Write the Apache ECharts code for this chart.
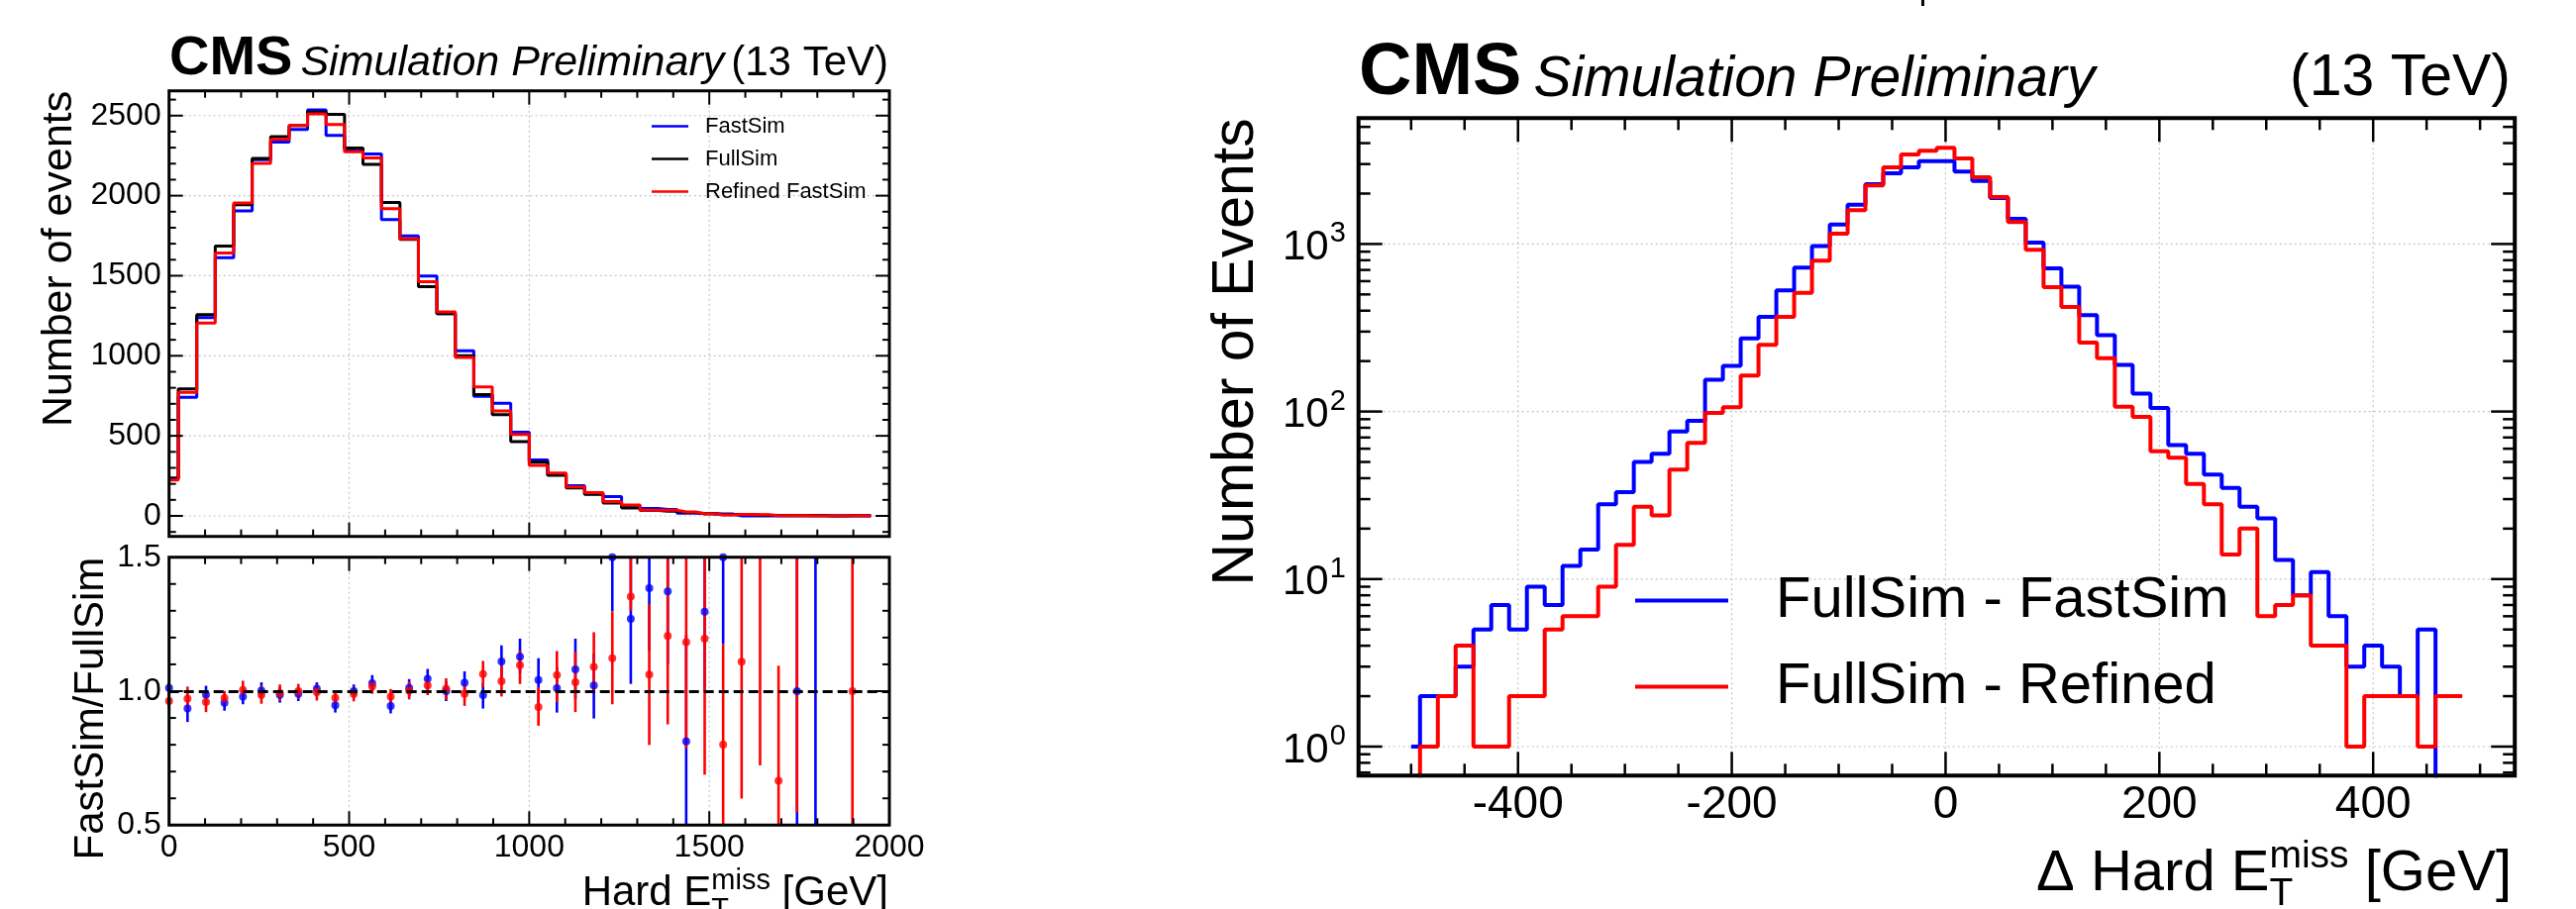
<!DOCTYPE html>
<html><head><meta charset="utf-8">
<script src="https://cdn.jsdelivr.net/npm/echarts@6/dist/echarts.min.js"></script>
<style>html,body{margin:0;padding:0;background:#fff}#c{width:2601px;height:918px}</style>
</head><body><div id="c"></div>
<script>
// ---------------- Left panel: Hard E_T^miss (39 bins over 0..2000) ----------------
const metRange = [0, 2000];
const metBins = 39;
const fastSim = [236,741,1239,1613,1905,2225,2335,2414,2535,2376,2290,2261,1850,1748,1498,1263,1031,747,703,523,349,256,189,137,120,64,47,40,17,16,12,0,0,0,1,2,0,0,0];
const fullSim = [233,793,1257,1686,1944,2232,2368,2438,2521,2508,2298,2195,1958,1727,1432,1263,1000,758,633,464,335,253,175,134,80,50,34,29,21,12,8,9,4,3,1,1,0,1,1];
const refinedFastSim = [224,771,1205,1642,1954,2201,2351,2438,2511,2445,2275,2235,1919,1730,1462,1274,990,806,656,509,315,268,181,146,90,68,36,35,25,14,6,10,7,2,2,0,0,1,0];
// ratio panel: value, lower and upper end of the error bar
const ratioFast   = [1.012,0.935,0.986,0.957,0.980,1.002,0.986,0.990,1.009,0.947,1.000,1.030,0.945,1.012,1.046,1.000,1.031,0.985,1.111,1.128,1.042,1.011,1.081,1.021,1.500,1.270,1.384,1.372,0.812,1.297,1.500,null,null,null,1.000,2.000,null,null,null];
const ratioFastLo = [0.990,0.885,0.952,0.927,0.951,0.972,0.957,0.963,0.981,0.920,0.975,1.000,0.917,0.980,1.009,0.963,0.990,0.935,1.052,1.067,0.956,0.920,0.970,0.898,1.298,1.027,1.150,1.100,0.410,1.000,1.175,null,null,null,0.000,0.000,null,null,null];
const ratioFastHi = [1.034,0.984,1.020,0.987,1.009,1.033,1.015,1.015,1.033,0.972,1.025,1.060,0.972,1.045,1.083,1.037,1.074,1.030,1.171,1.196,1.123,1.090,1.196,1.140,1.750,1.520,1.620,1.650,1.210,1.600,1.850,null,null,null,2.000,4.000,null,null,null];
const ratioRef    = [0.963,0.972,0.959,0.974,1.005,0.986,0.993,1.000,0.996,0.975,0.990,1.018,0.980,1.002,1.021,1.009,0.990,1.064,1.037,1.097,0.941,1.060,1.033,1.091,1.123,1.353,1.062,1.206,1.183,1.196,0.800,1.110,1.800,0.666,2.000,null,null,1.000,null];
const ratioRefLo  = [0.935,0.930,0.922,0.947,0.971,0.953,0.965,0.972,0.965,0.950,0.962,0.990,0.952,0.969,0.985,0.968,0.945,1.015,0.980,1.027,0.871,0.959,0.922,1.002,0.951,1.300,0.799,0.876,0.787,0.688,0.425,0.599,0.723,0.236,0.547,null,null,0.000,null];
const ratioRefHi  = [0.991,1.017,0.996,1.001,1.039,1.020,1.025,1.027,1.025,1.000,1.017,1.043,1.008,1.036,1.052,1.048,1.033,1.113,1.095,1.150,1.015,1.150,1.147,1.220,1.298,1.700,1.325,1.536,1.580,1.700,1.175,1.620,2.900,1.095,3.400,null,null,2.000,null];

// ---------------- Right panel: Delta Hard E_T^miss (bins of 50/3 GeV from -500) ----------------
const diffFirstCenter = -500;
const diffBinWidth = 50 / 3;
const diffFullMinusFast = [1,2,2,3,5,7,5,9,7,12,15,28,33,50,56,76,88,155,187,273,367,528,724,973,1306,1714,2278,2642,2868,3123,3123,2704,2382,1880,1413,1019,716,557,376,286,190,128,105,63,56,42,35,27,23,13,8,11,6,3,4,3,2,5,0,0];
const diffFullMinusRefined = [0,1,2,4,1,1,2,2,5,6,6,9,16,27,24,45,65,98,106,164,250,367,511,794,1151,1591,2235,2868,3422,3597,3748,3243,2500,1906,1351,923,552,421,258,208,107,93,58,53,37,28,14,20,6,7,8,4,4,1,2,2,2,1,2,2];

// tick labels
const leftYTickLabels = [0,500,1000,1500,2000,2500];
const ratioXTickLabels = [0,500,1000,1500,2000];
const rightXTickLabels = [-400,-200,0,200,400];
const rightYTickLabels = [1,10,100,1000];

const FONT = 'Liberation Sans';
const BLUE = '#0000ff', RED = '#ff0000', BLACK = '#000000';

const metWidth = (metRange[1] - metRange[0]) / metBins;
const metCenters = fullSim.map((_, i) => metRange[0] + i * metWidth);
const diffCenters = diffFullMinusFast.map((_, i) => diffFirstCenter + i * diffBinWidth);
const pairs = (xs, ys) => xs.map((x, i) => [x, ys[i]]);
const logSafe = v => (v > 0 ? v : 0.01); // empty bins fall below the log axis and get clipped

const mctx = document.createElement('canvas').getContext('2d');
function tw(t, fs, weight, style) { mctx.font = `${style||'normal'} ${weight||'normal'} ${fs}px "${FONT}"`; return mctx.measureText(t).width; }
const mid = (baseline, fs) => baseline - 0.3465 * fs;
function txt(x, y, text, fs, o) {
  o = o || {};
  return { type: 'text', x: x, y: y, rotation: o.rot || 0, silent: true, z: 100,
    style: { text: text, fontSize: fs, fontFamily: FONT, fontWeight: o.bold ? 'bold' : 'normal',
      fontStyle: o.italic ? 'italic' : 'normal', fill: '#000', align: o.align || 'left', verticalAlign: 'middle' } };
}
function xTitle(right, baseline, fs, sfs, raise, drop, prefix, suffix) {
  const w1 = tw(prefix, fs), ws = tw('miss', sfs), wt = tw('T', sfs), w2 = tw(suffix, fs);
  const x0 = right - (w1 + Math.max(ws, wt) + w2);
  return [
    txt(x0, mid(baseline, fs), prefix, fs),
    txt(x0 + w1, mid(baseline - raise, sfs), 'miss', sfs),
    txt(x0 + w1, mid(baseline + drop, sfs), 'T', sfs),
    txt(x0 + w1 + Math.max(ws, wt), mid(baseline, fs), suffix, fs)
  ];
}

const gridStyle = { stroke: '#c4c4c4', lineWidth: 1.2, lineDash: [2, 3] };
function decor(xi, yi, anchor, cfg) {
  const gridSeries = {
    type: 'custom', xAxisIndex: xi, yAxisIndex: yi, z: 1, silent: true, data: [anchor],
    renderItem: function (params, api) {
      const cs = params.coordSys, ch = [];
      (cfg.xGrid || []).forEach(v => { const x = api.coord([v, anchor[1]])[0];
        ch.push({ type: 'line', shape: { x1: x, y1: cs.y, x2: x, y2: cs.y + cs.height }, style: gridStyle }); });
      (cfg.yGrid || []).forEach(v => { const y = api.coord([anchor[0], v])[1];
        ch.push({ type: 'line', shape: { x1: cs.x, y1: y, x2: cs.x + cs.width, y2: y }, style: gridStyle }); });
      return { type: 'group', children: ch };
    }
  };
  const tickSeries = {
    type: 'custom', xAxisIndex: xi, yAxisIndex: yi, z: 10, silent: true, data: [anchor],
    renderItem: function (params, api) {
      const cs = params.coordSys, ch = [];
      const st = { stroke: '#000', lineWidth: cfg.tickWidth };
      const inX = x => x > cs.x + 1 && x < cs.x + cs.width - 1;
      const inY = y => y > cs.y + 1 && y < cs.y + cs.height - 1;
      const xt = (vals, L) => vals.forEach(v => { const x = api.coord([v, anchor[1]])[0]; if (!inX(x)) return;
        ch.push({ type: 'line', shape: { x1: x, y1: cs.y + cs.height, x2: x, y2: cs.y + cs.height - L }, style: st });
        ch.push({ type: 'line', shape: { x1: x, y1: cs.y, x2: x, y2: cs.y + L }, style: st }); });
      const yt = (vals, L) => vals.forEach(v => { const y = api.coord([anchor[0], v])[1]; if (!inY(y)) return;
        ch.push({ type: 'line', shape: { x1: cs.x, y1: y, x2: cs.x + L, y2: y }, style: st });
        ch.push({ type: 'line', shape: { x1: cs.x + cs.width, y1: y, x2: cs.x + cs.width - L, y2: y }, style: st }); });
      xt(cfg.xMajor, cfg.major); xt(cfg.xMinor, cfg.minor);
      yt(cfg.yMajor, cfg.major); yt(cfg.yMinor, cfg.minor);
      ch.push({ type: 'rect', shape: { x: cs.x, y: cs.y, width: cs.width, height: cs.height },
        style: { fill: 'none', stroke: '#000', lineWidth: cfg.frameWidth } });
      if (cfg.logLabels) {
        cfg.logLabels.forEach(v => {
          const y = api.coord([anchor[0], v])[1];
          const e = String(Math.round(Math.log10(v)));
          const xr = cs.x - 30;
          ch.push({ type: 'text', x: xr, y: y + 4, style: { text: '10', fontSize: 42, fontFamily: FONT, fill: '#000', align: 'right', verticalAlign: 'middle' } });
          ch.push({ type: 'text', x: xr + 1, y: y - 10, style: { text: e, fontSize: 29, fontFamily: FONT, fill: '#000', align: 'left', verticalAlign: 'middle' } });
        });
      }
      return { type: 'group', children: ch };
    }
  };
  return [gridSeries, tickSeries];
}
const range = (a, b, s, skip) => { const r = []; for (let v = a; v <= b + 1e-9; v += s) { const vv = Math.round(v * 1000) / 1000; if (!skip || !skip(vv)) r.push(vv); } return r; };

function errSeries(name, vals, lo, hi, color) {
  const rows = [];
  vals.forEach((v, i) => { if (v !== null) rows.push([metCenters[i], v, lo[i], hi[i]]); });
  return { type: 'custom', name: name + ' err', xAxisIndex: 1, yAxisIndex: 1, z: 3, silent: true, data: rows,
    encode: { x: 0, y: 1 },
    renderItem: function (params, api) {
      const cs = params.coordSys;
      const x = api.coord([api.value(0), 1])[0];
      let y1 = api.coord([api.value(0), api.value(2)])[1];
      let y2 = api.coord([api.value(0), api.value(3)])[1];
      const cl = y => Math.max(cs.y, Math.min(cs.y + cs.height, y));
      return { type: 'line', shape: { x1: x, y1: cl(y1), x2: x, y2: cl(y2) }, style: { stroke: color, lineWidth: 2.6 } };
    } };
}
function ptSeries(name, vals, color) {
  const rows = [];
  vals.forEach((v, i) => { if (v !== null) rows.push([metCenters[i], v]); });
  return { type: 'scatter', name: name, xAxisIndex: 1, yAxisIndex: 1, z: 3, clip: true, symbol: 'circle', symbolSize: 8,
    itemStyle: { color: color }, data: rows, silent: true };
}
function hist(name, xi, yi, xs, ys, color, w) {
  return { type: 'line', name: name, xAxisIndex: xi, yAxisIndex: yi, step: 'middle', symbol: 'none', showSymbol: false,
    clip: true, z: 2, color: color, itemStyle: { color: color }, lineStyle: { color: color, width: w }, data: pairs(xs, ys), silent: true };
}

const hiddenAxis = { axisLine: { show: false }, axisTick: { show: false }, splitLine: { show: false } };
const plain = v => String(v);
const lab = (fs, margin, extra) => Object.assign({ fontSize: fs, color: '#000', fontFamily: FONT, margin: margin, formatter: plain }, extra || {});

const graphics = [];
// left title
{
  const wC = tw('CMS', 56, 'bold');
  graphics.push(txt(171, mid(78.5, 56), 'CMS', 56, { bold: true }));
  graphics.push(txt(171 + wC + 8, mid(78.5, 43), 'Simulation Preliminary', 43, { italic: true }));
  graphics.push(txt(897, mid(78.5, 42), '(13 TeV)', 42, { align: 'right' }));
}
// right title
{
  const wC = tw('CMS', 74, 'bold');
  graphics.push(txt(1372, mid(100.5, 74), 'CMS', 74, { bold: true }));
  graphics.push(txt(1372 + wC + 12, mid(100.5, 57), 'Simulation Preliminary', 57, { italic: true }));
  graphics.push(txt(2535, mid(100.5, 59), '(13 TeV)', 59, { align: 'right' }));
}
graphics.push(txt(60.6, 91.7, 'Number of events', 43, { rot: Math.PI / 2, align: 'right' }));
graphics.push(txt(92.7, 562.7, 'FastSim/FullSim', 42, { rot: Math.PI / 2, align: 'right' }));
graphics.push(txt(1249, 119.3, 'Number of Events', 59, { rot: Math.PI / 2, align: 'right' }));
xTitle(897, 917, 42, 29, 17, 12, 'Hard E', ' [GeV]').forEach(g => graphics.push(g));
xTitle(2536, 903.3, 58, 39, 25, 13.4, '\u0394 Hard E', ' [GeV]').forEach(g => graphics.push(g));
graphics.push({ type: 'rect', shape: { x: 1940, y: 0, width: 3, height: 6 }, style: { fill: '#000' }, silent: true });

const option = {
  animation: false,
  backgroundColor: '#ffffff',
  textStyle: { fontFamily: FONT },
  grid: [
    { left: 170.7, top: 91.7, width: 727.3, height: 450 },
    { left: 170.7, top: 562.7, width: 727.3, height: 270.6 },
    { left: 1371.7, top: 119.3, width: 1167.5, height: 664 }
  ],
  xAxis: [
    Object.assign({ gridIndex: 0, type: 'value', min: metRange[0], max: metRange[1], axisLabel: { show: false } }, hiddenAxis),
    Object.assign({ gridIndex: 1, type: 'value', min: metRange[0], max: metRange[1], interval: 500,
      axisLabel: lab(32, 7, { customValues: ratioXTickLabels, showMinLabel: true, showMaxLabel: true }) }, hiddenAxis),
    Object.assign({ gridIndex: 2, type: 'value', min: -549.2, max: 532.5,
      axisLabel: lab(46, 7, { customValues: rightXTickLabels }) }, hiddenAxis)
  ],
  yAxis: [
    Object.assign({ gridIndex: 0, type: 'value', min: -128, max: 2655,
      axisLabel: lab(32, 8, { customValues: leftYTickLabels }) }, hiddenAxis),
    Object.assign({ gridIndex: 1, type: 'value', min: 0.5, max: 1.5, interval: 0.5,
      axisLabel: lab(32, 8, { formatter: v => v.toFixed(1), showMinLabel: true, showMaxLabel: true }) }, hiddenAxis),
    Object.assign({ gridIndex: 2, type: 'log', logBase: 10, min: 0.671, max: 5640, axisLabel: { show: false } }, hiddenAxis)
  ],
  legend: [
    { data: ['FastSim', 'FullSim', 'Refined FastSim'], orient: 'vertical', left: 653, top: 111.5, icon: 'rect',
      itemWidth: 37, itemHeight: 2.5, itemGap: 11, selectedMode: false,
      textStyle: { fontSize: 22, color: '#000', fontFamily: FONT, padding: [0, 0, 0, 12] } },
    { data: ['FullSim - FastSim', 'FullSim - Refined'], orient: 'vertical', left: 1646, top: 572.5, icon: 'rect',
      itemWidth: 94, itemHeight: 4, itemGap: 29, selectedMode: false,
      textStyle: { fontSize: 58, color: '#000', fontFamily: FONT, padding: [0, 0, 0, 43] } }
  ],
  graphic: graphics,
  series: [].concat(
    decor(0, 0, [1000, 1000], { xGrid: [500, 1000, 1500], yGrid: leftYTickLabels,
      xMajor: [0, 500, 1000, 1500, 2000], xMinor: range(100, 1900, 100, v => v % 500 === 0),
      yMajor: leftYTickLabels, yMinor: range(-100, 2600, 100, v => v % 500 === 0),
      major: 14, minor: 7, tickWidth: 2, frameWidth: 3 }),
    decor(1, 1, [1000, 1], { xGrid: [500, 1000, 1500], yGrid: [],
      xMajor: [0, 500, 1000, 1500, 2000], xMinor: range(100, 1900, 100, v => v % 500 === 0),
      yMajor: [0.5, 1.0, 1.5], yMinor: [0.6, 0.7, 0.8, 0.9, 1.1, 1.2, 1.3, 1.4],
      major: 14, minor: 7, tickWidth: 2, frameWidth: 3 }),
    decor(2, 2, [0, 10], { xGrid: rightXTickLabels, yGrid: rightYTickLabels,
      xMajor: rightXTickLabels, xMinor: range(-500, 500, 50, v => v % 200 === 0),
      yMajor: rightYTickLabels,
      yMinor: [0.7, 0.8, 0.9, 2, 3, 4, 5, 6, 7, 8, 9, 20, 30, 40, 50, 60, 70, 80, 90, 200, 300, 400, 500, 600, 700, 800, 900, 2000, 3000, 4000, 5000],
      major: 24, minor: 12, tickWidth: 2.5, frameWidth: 4, logLabels: rightYTickLabels }),
    [
      hist('FastSim', 0, 0, metCenters, fastSim, BLUE, 3),
      hist('FullSim', 0, 0, metCenters, fullSim, BLACK, 3),
      hist('Refined FastSim', 0, 0, metCenters, refinedFastSim, RED, 3),
      { type: 'line', name: 'unity', xAxisIndex: 1, yAxisIndex: 1, data: [], z: 2, silent: true,
        markLine: { silent: true, symbol: 'none', label: { show: false }, animation: false,
          lineStyle: { color: '#000', width: 3, type: [10, 5] }, data: [{ yAxis: 1 }] } },
      errSeries('FastSim/FullSim', ratioFast, ratioFastLo, ratioFastHi, BLUE),
      ptSeries('FastSim/FullSim', ratioFast, BLUE),
      errSeries('Refined/FullSim', ratioRef, ratioRefLo, ratioRefHi, RED),
      ptSeries('Refined/FullSim', ratioRef, RED),
      hist('FullSim - FastSim', 2, 2, diffCenters, diffFullMinusFast.map(logSafe), BLUE, 4),
      hist('FullSim - Refined', 2, 2, diffCenters, diffFullMinusRefined.map(logSafe), RED, 4)
    ]
  )
};
const chart = echarts.init(document.getElementById('c'), null, { renderer: 'canvas', width: 2601, height: 918 });
chart.setOption(option);
</script>
</body></html>
